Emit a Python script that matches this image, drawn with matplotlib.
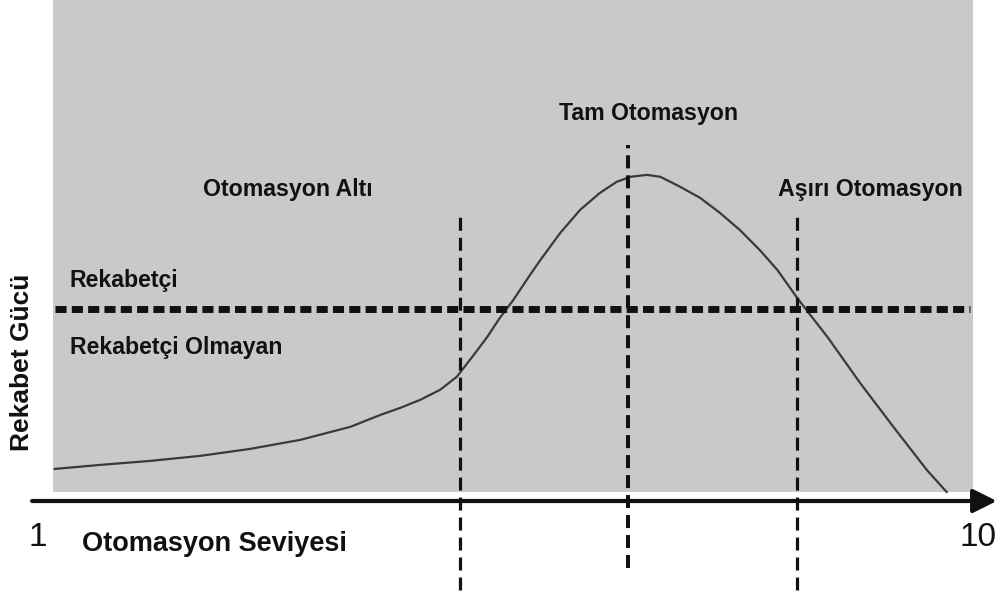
import matplotlib.pyplot as plt
from matplotlib.patches import Rectangle

plt.rcParams['font.family'] = ['Liberation Sans', 'DejaVu Sans']

# automation level (1..10) vs competitive power
level = [1.16, 1.59, 2.07, 2.55, 3.03, 3.51, 3.99, 4.28, 4.47, 4.66, 4.85,
         5.01, 5.17, 5.30, 5.42, 5.55, 5.71, 5.81, 6.00, 6.19, 6.38, 6.54,
         6.67, 6.83, 6.96, 7.15, 7.34, 7.53, 7.72, 7.91, 8.08, 8.27, 8.56,
         8.87, 9.19, 9.51, 9.70]
power = [0.64, 0.72, 0.80, 0.90, 1.04, 1.22, 1.48, 1.72, 1.86, 2.02, 2.22,
         2.48, 2.91, 3.27, 3.65, 4.01, 4.51, 4.81, 5.35, 5.81, 6.15, 6.37,
         6.47, 6.51, 6.47, 6.27, 6.05, 5.75, 5.41, 5.01, 4.61, 4.05, 3.27,
         2.36, 1.48, 0.62, 0.18]

# zone borders (level) and the competitive threshold
borders = [5.04, 6.65, 8.27]
border_top = [5.71, 7.11, 5.71]
border_bottom = [-1.78, -1.34, -1.78]
border_width = [2.3, 2.9, 2.3]
threshold = 3.83

zone_labels = ['Otomasyon Altı', 'Tam Otomasyon', 'Aşırı Otomasyon']
zone_label_x = [3.39, 6.85, 8.97]
zone_label_y = [6.21, 7.74, 6.21]

bg = '#c9c9cc'

fig = plt.figure(figsize=(10.02, 5.96), dpi=100)
ax = fig.add_axes([0, 0, 1, 1])
ax.set_xlim(0.636, 10.23)
ax.set_ylim(-1.896, 10)
ax.axis('off')

# gray panel
ax.add_patch(Rectangle((1.144, 0.18), 9.952 - 1.144, 10.5, facecolor=bg,
                       edgecolor='none', zorder=0))

# curve
ax.plot(level, power, color='#3a3a3a', lw=1.6, solid_joinstyle='round', zorder=3)

# threshold line
ax.plot([1.163, 9.92], [threshold, threshold], color='#111111', lw=5,
        linestyle=(0, (1.6, 0.75)), zorder=4)

# vertical zone borders
for x, top, bot, w in zip(borders, border_top, border_bottom, border_width):
    ax.plot([x, x], [bot, top], color='#111111', lw=w,
            linestyle=(0, (13 / (w * 1.39), 7 / (w * 1.39))), zorder=4)

# x axis arrow
ax.annotate('', xy=(10.18, 0), xytext=(0.943, 0),
            arrowprops=dict(arrowstyle='-|>', lw=3, color='#111111',
                            mutation_scale=36, shrinkA=0, shrinkB=0),
            zorder=5)

# texts
for lab, x, y in zip(zone_labels, zone_label_x, zone_label_y):
    kw = {}
    if lab == 'Aşırı Otomasyon':
        kw['bbox'] = dict(facecolor=bg, edgecolor='none', pad=2)
    ax.text(x, y, lab, ha='center', va='center', fontsize=16.7,
            fontweight='bold', color='#111111', zorder=6, **kw)

ax.text(1.306, 4.41, 'Rekabetçi', ha='left', va='center', fontsize=16.7,
        fontweight='bold', color='#111111')
ax.text(1.306, 3.07, 'Rekabetçi Olmayan', ha='left', va='center', fontsize=16.7,
        fontweight='bold', color='#111111')
ax.text(0.847, 2.77, 'Rekabet Gücü', ha='center', va='center', rotation=90,
        fontsize=19, fontweight='bold', color='#111111')
ax.text(1.42, -0.86, 'Otomasyon Seviyesi', ha='left', va='center', fontsize=19.5,
        fontweight='bold', color='#111111')
ax.text(1, -0.72, '1', ha='center', va='center', fontsize=24, color='#111111')
ax.text(10, -0.72, '10', ha='center', va='center', fontsize=24, color='#111111')

fig.savefig('out.png', dpi=100, facecolor='white')
